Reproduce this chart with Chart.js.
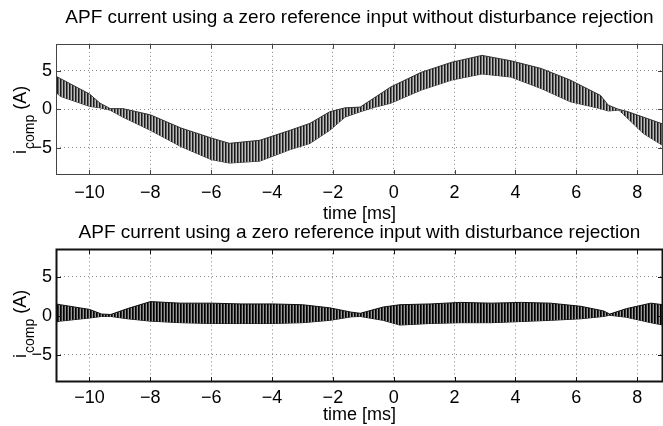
<!DOCTYPE html>
<html>
<head>
<meta charset="utf-8">
<script src="https://cdn.jsdelivr.net/npm/chart.js@4/dist/chart.umd.min.js"></script>
<style>
	body { margin: 0; background: #fff; }
	#wrap { position: relative; width: 663px; height: 426px; overflow: hidden; }
	canvas { position: absolute; left: 0; }
	#topChart { top: 0; }
	#bottomChart { top: 216px; }
</style>
</head>
<body>
<div id="wrap">
	<canvas id="topChart" width="663" height="230"></canvas>
	<canvas id="bottomChart" width="663" height="210"></canvas>
</div>
<script>
// tick labels
var xTicks = [-10, -8, -6, -4, -2, 0, 2, 4, 6, 8];
var yTicks = [-5, 0, 5];

// top plot: upper / lower edge of the ripple band (A) against time (ms)
var timeTop  = [-11.1, -10.96, -10, -9.65, -9.32, -8.9, -8, -7, -6, -5.4, -4.4, -3.4, -2.75, -2.1, -1.6, -1.1, -0.6, -0.1, 0.9, 1.9, 2.9, 3.85, 4.85, 5.8, 6.8, 7.05, 7.4, 7.7, 8.2, 8.85];
var upperTop = [4.3, 4.0, 2.0, 0.8, 0.1, 0.1, -0.7, -2.4, -3.7, -4.4, -4.0, -2.7, -1.8, -0.3, 0.2, 0.3, 1.6, 2.9, 4.8, 6.1, 7.0, 6.3, 5.3, 3.8, 1.8, 0.55, 0.0, -0.3, -1.0, -1.9];
var lowerTop = [2.2, 1.7, 0.4, 0.2, -0.1, -1.0, -2.7, -4.8, -6.5, -6.95, -6.7, -5.2, -4.4, -2.7, -1.0, -0.3, 0.3, 0.8, 2.5, 3.8, 4.6, 4.2, 2.7, 1.0, 0.1, -0.2, -0.1, -1.2, -3.1, -4.7];

// bottom plot: same signal with disturbance rejection
var timeBottom  = [-11.1, -10.96, -10, -9.6, -9.3, -8.75, -8, -7, -6, -5, -4, -3, -2.1, -1.4, -1.1, -0.35, 0.2, 1.2, 2.2, 3.2, 4.2, 5.15, 6.15, 6.9, 7.1, 7.65, 8.45, 8.85];
var upperBottom = [1.5, 1.4, 0.8, 0.2, 0.15, 0.9, 1.8, 1.6, 1.6, 1.5, 1.5, 1.4, 1.0, 0.45, 0.3, 1.1, 1.4, 1.5, 1.7, 1.6, 1.7, 1.6, 1.2, 0.6, 0.2, 0.9, 1.6, 1.4];
var lowerBottom = [-0.8, -0.7, -0.3, -0.1, -0.1, -0.4, -0.7, -0.9, -1.0, -1.0, -1.0, -0.9, -0.6, -0.15, -0.1, -0.6, -1.2, -1.0, -0.9, -0.9, -0.75, -0.6, -0.4, -0.1, 0.05, -0.2, -0.9, -1.2];

var fontFamily = "'Liberation Sans', Arial, Helvetica, sans-serif";

// vertical hatching to look like the switching ripple
function ripplePattern(ctx, cols) {
	var c = document.createElement('canvas');
	c.width = cols.length;
	c.height = 1;
	var g = c.getContext('2d');
	cols.forEach(function(col, i) {
		g.fillStyle = col;
		g.fillRect(i, 0, 1, 1);
	});
	return ctx.createPattern(c, 'repeat');
}

function points(t, v) {
	return t.map(function(x, i) { return {x: x, y: v[i]}; });
}

// box, inward ticks and the i_comp label, matlab style
var matlabAxes = {
	id: 'matlabAxes',
	afterDraw: function(chart, args, opts) {
		var a = chart.chartArea, ctx = chart.ctx;
		var xs = chart.scales.x, ys = chart.scales.y;
		ctx.save();
		ctx.strokeStyle = opts.boxColor;
		ctx.lineWidth = opts.boxWidth;
		ctx.strokeRect(Math.round(a.left) + 0.5, Math.round(a.top) + 0.5, Math.round(a.right - a.left) - 1, Math.round(a.bottom - a.top) - 1);
		ctx.lineWidth = 1;
		ctx.beginPath();
		xTicks.forEach(function(v) {
			var px = Math.round(xs.getPixelForValue(v)) + 0.5;
			ctx.moveTo(px, a.top); ctx.lineTo(px, a.top + 5);
			ctx.moveTo(px, a.bottom); ctx.lineTo(px, a.bottom - 5);
		});
		yTicks.forEach(function(v) {
			var py = Math.round(ys.getPixelForValue(v)) + 0.5;
			ctx.moveTo(a.left, py); ctx.lineTo(a.left + 5, py);
			ctx.moveTo(a.right, py); ctx.lineTo(a.right - 5, py);
		});
		ctx.stroke();

		ctx.translate(opts.x, opts.y);
		ctx.rotate(-Math.PI / 2);
		ctx.fillStyle = '#000';
		ctx.textAlign = 'left';
		ctx.textBaseline = 'alphabetic';
		ctx.font = '18px ' + fontFamily;
		ctx.fillText('i', 0, 0);
		var w = ctx.measureText('i').width;
		ctx.font = '14px ' + fontFamily;
		ctx.fillText('comp', w + 1, 8);
		var w2 = ctx.measureText('comp').width;
		ctx.font = '18px ' + fontFamily;
		ctx.fillText(' (A)', w + w2 + 1, 0);
		ctx.restore();
	}
};

function makeChart(id, title, t, upper, lower, lay) {
	var ctx = document.getElementById(id).getContext('2d');
	return new Chart(ctx, {
		type: 'line',
		data: {
			datasets: [{
				label: 'upper',
				data: points(t, upper),
				borderColor: lay.edge,
				borderWidth: 1,
				pointRadius: 0,
				tension: 0,
				fill: '+1',
				backgroundColor: ripplePattern(ctx, lay.hatch)
			}, {
				label: 'lower',
				data: points(t, lower),
				borderColor: lay.edge,
				borderWidth: 1,
				pointRadius: 0,
				tension: 0,
				fill: false
			}]
		},
		options: {
			responsive: false,
			animation: false,
			layout: { padding: 0 },
			plugins: {
				legend: { display: false },
				tooltip: { enabled: false },
				title: {
					display: true,
					text: title,
					color: '#000',
					fullSize: false,
					font: { family: fontFamily, size: 19, weight: 'normal', lineHeight: 1.2 },
					padding: { top: lay.titleTop, bottom: lay.titleBottom }
				},
				matlabAxes: { x: 26, y: lay.labelY, boxColor: lay.boxColor, boxWidth: lay.boxWidth }
			},
			scales: {
				x: {
					type: 'linear',
					min: -11.1,
					max: 8.85,
					afterBuildTicks: function(s) { s.ticks = xTicks.map(function(v) { return {value: v}; }); },
					afterFit: function(s) { s.height = lay.xHeight; },
					ticks: {
						color: '#000',
						padding: lay.tickPad,
						maxRotation: 0,
						font: { family: fontFamily, size: 18 },
						callback: function(v) { return String(v).replace('-', '\u2212'); }
					},
					grid: { color: '#888', drawTicks: false, tickLength: 0 },
					border: { display: false, dash: [1, 3] },
					title: {
						display: true,
						text: 'time [ms]',
						color: '#000',
						font: { family: fontFamily, size: 18, lineHeight: 1.2 },
						padding: { top: 0, bottom: lay.xTitlePad }
					}
				},
				y: {
					min: -8.5,
					max: 8.5,
					afterBuildTicks: function(s) { s.ticks = yTicks.map(function(v) { return {value: v}; }); },
					afterFit: function(s) { s.width = 56; },
					ticks: {
						color: '#000',
						padding: 4,
						font: { family: fontFamily, size: 18 },
						callback: function(v) { return String(v).replace('-', '\u2212'); }
					},
					grid: { color: '#888', drawTicks: false, tickLength: 0 },
					border: { display: false, dash: [1, 3] }
				}
			}
		},
		plugins: [matlabAxes]
	});
}

makeChart('topChart', 'APF current using a zero reference input without disturbance rejection',
	timeTop, upperTop, lowerTop,
	{ titleTop: 6, titleBottom: 15, xHeight: 55, tickPad: 7, xTitlePad: 5, labelY: 154,
	  edge: '#333', hatch: ['#1a1a1a', '#666', '#bbb'], boxColor: '#444', boxWidth: 1 });

makeChart('bottomChart', 'APF current using a zero reference input with disturbance rejection',
	timeBottom, upperBottom, lowerBottom,
	{ titleTop: 5, titleBottom: 5.5, xHeight: 44, tickPad: 5, xTitlePad: 0, labelY: 142,
	  edge: '#111', hatch: ['#000', '#333', '#999'], boxColor: '#111', boxWidth: 2 });
</script>
</body>
</html>
